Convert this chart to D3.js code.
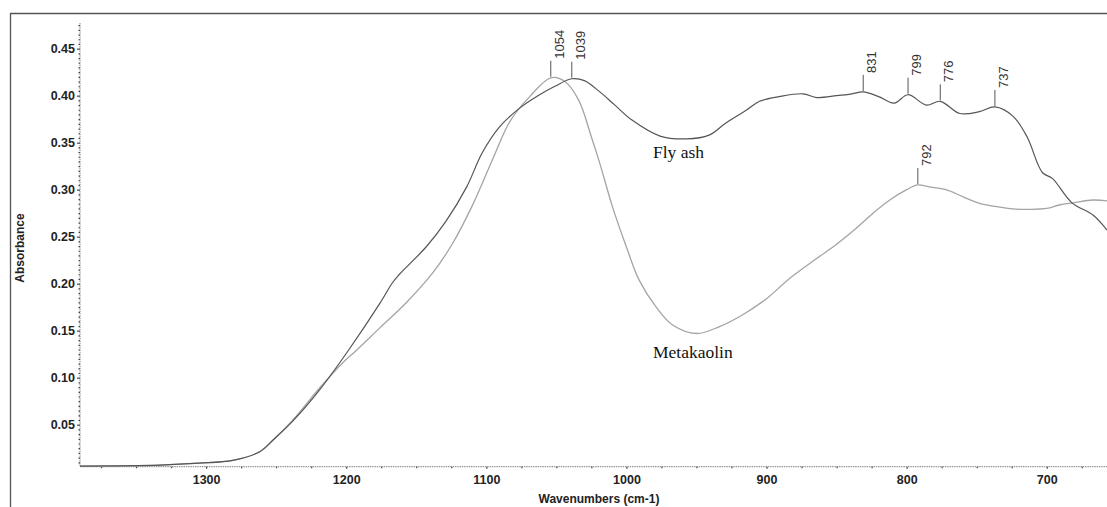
<!DOCTYPE html>
<html>
<head>
<meta charset="utf-8">
<script src="https://cdn.jsdelivr.net/npm/d3@7"></script>
<style>
  html, body { margin: 0; padding: 0; background: #fff; }
  svg { display: block; }
</style>
</head>
<body>
<svg id="chart" width="1107" height="507"></svg>
<script>
// FTIR spectra: wavenumber (cm-1) and absorbance
const flyAshWn = [1390, 1333, 1305, 1281, 1262, 1252, 1238, 1219, 1198, 1176, 1167, 1162, 1143, 1129, 1114, 1103, 1091, 1076, 1062, 1051, 1039, 1030, 1019, 1009, 996, 976, 957, 941, 929, 914, 905, 891, 874, 864, 850, 839, 831, 820, 809, 799, 786, 776, 762, 748, 737, 724, 714, 703, 696, 682, 667, 657];
const flyAshAbs = [0.006, 0.007, 0.009, 0.012, 0.021, 0.034, 0.054, 0.087, 0.130, 0.179, 0.201, 0.210, 0.239, 0.266, 0.303, 0.339, 0.366, 0.387, 0.401, 0.410, 0.418, 0.416, 0.404, 0.391, 0.374, 0.357, 0.354, 0.358, 0.371, 0.385, 0.394, 0.399, 0.402, 0.398, 0.400, 0.402, 0.404, 0.399, 0.392, 0.401, 0.390, 0.394, 0.381, 0.383, 0.388, 0.378, 0.356, 0.318, 0.312, 0.286, 0.273, 0.257];

const metakaolinWn = [1390, 1333, 1305, 1281, 1262, 1252, 1238, 1219, 1201, 1195, 1176, 1157, 1138, 1124, 1110, 1095, 1083, 1069, 1054, 1044, 1034, 1025, 1019, 1010, 1000, 991, 979, 967, 950, 934, 917, 900, 884, 865, 850, 836, 824, 812, 800, 792, 784, 772, 760, 748, 736, 724, 712, 700, 691, 681, 667, 657];
const metakaolinAbs = [0.006, 0.007, 0.009, 0.012, 0.021, 0.034, 0.055, 0.089, 0.118, 0.126, 0.153, 0.180, 0.212, 0.243, 0.283, 0.334, 0.373, 0.399, 0.419, 0.415, 0.395, 0.356, 0.328, 0.282, 0.239, 0.204, 0.1755, 0.156, 0.147, 0.154, 0.167, 0.184, 0.205, 0.226, 0.242, 0.259, 0.275, 0.289, 0.300, 0.305, 0.303, 0.300, 0.2926, 0.2855, 0.282, 0.2795, 0.279, 0.280, 0.2837, 0.286, 0.289, 0.288];

// Marked band positions
const flyAshPeaks = [1039, 831, 799, 776, 737];
const metakaolinPeaks = [1054, 792];

// Axis ticks
const yTicks = [0.05, 0.10, 0.15, 0.20, 0.25, 0.30, 0.35, 0.40, 0.45];
const xTicks = [1300, 1200, 1100, 1000, 900, 800, 700];

const svg = d3.select("#chart");

const x = d3.scaleLinear().domain([1390, 657]).range([80, 1107]);
const y = d3.scaleLinear().domain([0.0053, 0.4773]).range([466.7, 23]);

// outer frame
svg.append("path")
  .attr("d", "M10.5,507 V13.5 H1107")
  .attr("fill", "none")
  .attr("stroke", "#555")
  .attr("stroke-width", 1.3);

// axis lines
svg.append("line")
  .attr("x1", 80).attr("x2", 1107).attr("y1", 466.7).attr("y2", 466.7)
  .attr("stroke", "#999").attr("stroke-width", 1.2).attr("stroke-dasharray", "1.5,0.8");
svg.append("line")
  .attr("x1", 80).attr("x2", 80).attr("y1", 23).attr("y2", 466.7)
  .attr("stroke", "#999").attr("stroke-width", 1.2).attr("stroke-dasharray", "1.5,0.8");

// y axis ticks
const yMinor = d3.range(0.01, 0.476, 0.005).filter(v => Math.abs(v * 20 - Math.round(v * 20)) > 1e-6);
const yAxisMinor = d3.axisLeft(y).tickValues(yMinor).tickSize(1.5).tickFormat("");
const yAxis = d3.axisLeft(y).tickValues(yTicks).tickSize(3).tickPadding(2).tickFormat(d3.format(".2f"));
const gyMinor = svg.append("g").attr("transform", "translate(80,0)").call(yAxisMinor);
const gy = svg.append("g").attr("transform", "translate(80,0)").call(yAxis);
[gy, gyMinor].forEach(g => {
  g.select(".domain").remove();
  g.selectAll(".tick line").attr("stroke", "#444").attr("stroke-width", 1.2);
});
gy.selectAll(".tick text")
  .attr("font-family", "Liberation Sans, Arial, sans-serif")
  .attr("font-weight", "bold")
  .attr("font-size", 12.5)
  .attr("fill", "#222");

// x axis ticks
const xMinor = d3.range(675, 1390, 25).filter(v => v % 100 !== 0);
const xAxisMinor = d3.axisBottom(x).tickValues(xMinor).tickSize(1.5).tickFormat("");
const xAxis = d3.axisBottom(x).tickValues(xTicks).tickSize(2).tickPadding(6).tickFormat(d3.format("d"));
const gxMinor = svg.append("g").attr("transform", "translate(0,466.7)").call(xAxisMinor);
const gx = svg.append("g").attr("transform", "translate(0,466.7)").call(xAxis);
[gx, gxMinor].forEach(g => {
  g.select(".domain").remove();
  g.selectAll(".tick line").attr("stroke", "#444").attr("stroke-width", 1.2);
});
gx.selectAll(".tick text")
  .attr("font-family", "Liberation Sans, Arial, sans-serif")
  .attr("font-weight", "bold")
  .attr("font-size", 12.5)
  .attr("fill", "#222");

// axis titles
svg.append("text")
  .attr("transform", "translate(24,248) rotate(-90)")
  .attr("text-anchor", "middle")
  .attr("font-family", "Liberation Sans, Arial, sans-serif")
  .attr("font-weight", "bold")
  .attr("font-size", 12)
  .attr("fill", "#222")
  .text("Absorbance");
svg.append("text")
  .attr("x", 599).attr("y", 503)
  .attr("text-anchor", "middle")
  .attr("font-family", "Liberation Sans, Arial, sans-serif")
  .attr("font-weight", "bold")
  .attr("font-size", 12)
  .attr("fill", "#222")
  .text("Wavenumbers (cm-1)");

// spectra
const line = d3.line()
  .x(d => x(d[0]))
  .y(d => y(d[1]))
  .curve(d3.curveCatmullRom.alpha(0.5));

const metakaolin = metakaolinWn.map((w, i) => [w, metakaolinAbs[i]]);
const flyAsh = flyAshWn.map((w, i) => [w, flyAshAbs[i]]);

svg.append("path")
  .datum(metakaolin)
  .attr("d", line)
  .attr("fill", "none")
  .attr("stroke", "#a4a4a4")
  .attr("stroke-width", 1.3);

svg.append("path")
  .datum(flyAsh)
  .attr("d", line)
  .attr("fill", "none")
  .attr("stroke", "#555")
  .attr("stroke-width", 1.2);

// band markers
function absAt(wns, abs, w) {
  const i = wns.findIndex(v => v === w);
  if (i >= 0) return abs[i];
  const j = wns.findIndex(v => v < w);
  const t = (wns[j - 1] - w) / (wns[j - 1] - wns[j]);
  return abs[j - 1] + t * (abs[j] - abs[j - 1]);
}

function drawPeaks(peaks, wns, abs) {
  peaks.forEach(p => {
    const px = x(p);
    const py = y(absAt(wns, abs, p));
    svg.append("line")
      .attr("x1", px).attr("x2", px)
      .attr("y1", py - 1).attr("y2", py - 17)
      .attr("stroke", "#555").attr("stroke-width", 1);
    svg.append("text")
      .attr("transform", `translate(${px + 13},${py - 19}) rotate(-90)`)
      .attr("font-family", "Liberation Sans, Arial, sans-serif")
      .attr("font-size", 13)
      .attr("fill", "#333")
      .text(p);
  });
}
drawPeaks(flyAshPeaks, flyAshWn, flyAshAbs);
drawPeaks(metakaolinPeaks, metakaolinWn, metakaolinAbs);

// series names
svg.append("text")
  .attr("x", 653).attr("y", 157.5)
  .attr("font-family", "Liberation Serif, Times New Roman, serif")
  .attr("font-size", 17.5)
  .attr("fill", "#111")
  .text("Fly ash");
svg.append("text")
  .attr("x", 653).attr("y", 357.5)
  .attr("font-family", "Liberation Serif, Times New Roman, serif")
  .attr("font-size", 17.5)
  .attr("fill", "#111")
  .text("Metakaolin");
</script>
</body>
</html>
